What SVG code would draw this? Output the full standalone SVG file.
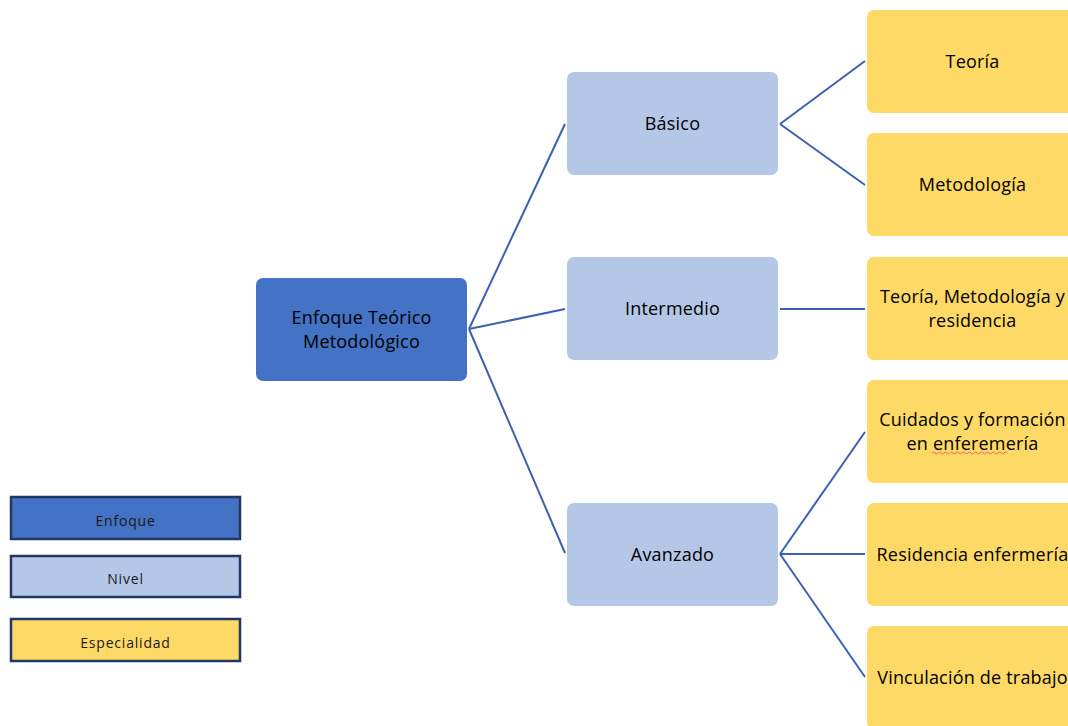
<svg xmlns="http://www.w3.org/2000/svg" width="1068" height="726" viewBox="0 0 1068 726">
<style>
.t{font-family:"Open Sans","Noto Sans",sans-serif;font-size:18px;fill:#000;text-anchor:middle;letter-spacing:0.2px}
.lt{font-family:"Open Sans","Noto Sans",sans-serif;font-size:14px;fill:#1a1a1a;text-anchor:middle;letter-spacing:0.8px}
.root{fill:#4472C4}
.lvl{fill:#B4C7E7}
.esp{fill:#FFD966}
.c{stroke:#3A62B0;stroke-width:2;fill:none}
.leg{stroke:#1F3864;stroke-width:2.5}
</style>
<rect width="1068" height="726" fill="#fff"/>
<g id="connectors">
<line class="c" x1="469" y1="329" x2="565" y2="124"/>
<line class="c" x1="469" y1="329" x2="565" y2="309"/>
<line class="c" x1="469" y1="329" x2="565" y2="553"/>
<line class="c" x1="780" y1="124" x2="865" y2="61"/>
<line class="c" x1="780" y1="124" x2="865" y2="185"/>
<line class="c" x1="780" y1="309" x2="865" y2="309"/>
<line class="c" x1="780" y1="554" x2="865" y2="432"/>
<line class="c" x1="780" y1="554" x2="865" y2="554"/>
<line class="c" x1="780" y1="554" x2="865" y2="677"/>
</g>
<g id="root"><rect class="root" x="256" y="278" width="211" height="103" rx="7"/>
<text class="t" x="361.5" y="324">Enfoque Teórico</text><text class="t" x="361.5" y="348">Metodológico</text></g>
<g id="basico"><rect class="lvl" x="567" y="72" width="211" height="103" rx="7"/><text class="t" x="672.5" y="130">Básico</text></g>
<g id="intermedio"><rect class="lvl" x="567" y="257" width="211" height="103" rx="7"/><text class="t" x="672.5" y="315">Intermedio</text></g>
<g id="avanzado"><rect class="lvl" x="567" y="503" width="211" height="103" rx="7"/><text class="t" x="672.5" y="561">Avanzado</text></g>
<g id="teoria"><rect class="esp" x="867" y="10" width="211" height="103" rx="7"/><text class="t" x="972.5" y="68">Teoría</text></g>
<g id="metodologia"><rect class="esp" x="867" y="133" width="211" height="103" rx="7"/><text class="t" x="972.5" y="191">Metodología</text></g>
<g id="teoria-met-res"><rect class="esp" x="867" y="257" width="211" height="103" rx="7"/><text class="t" x="972.5" y="303">Teoría, Metodología y</text><text class="t" x="972.5" y="327">residencia</text></g>
<g id="cuidados"><rect class="esp" x="867" y="380" width="211" height="103" rx="7"/><text class="t" x="972.5" y="426">Cuidados y formación</text><text class="t" x="972.5" y="450">en enferemería</text>
<path d="M932 453 q1.5 -2 3 0 t3 0 t3 0 t3 0 t3 0 t3 0 t3 0 t3 0 t3 0 t3 0 t3 0 t3 0 t3 0 t3 0 t3 0 t3 0 t3 0 t3 0 t3 0 t3 0 t3 0 t3 0 t3 0 t3 0 t3 0" stroke="#E05050" stroke-width="0.8" fill="none"/></g>
<g id="residencia"><rect class="esp" x="867" y="503" width="211" height="103" rx="7"/><text class="t" x="972.5" y="561">Residencia enfermería</text></g>
<g id="vinculacion"><rect class="esp" x="867" y="626" width="211" height="103" rx="7"/><text class="t" x="972.5" y="684">Vinculación de trabajo</text></g>
<g id="legend-enfoque"><rect class="root leg" x="11" y="497" width="229" height="42"/><text class="lt" x="125.5" y="526">Enfoque</text></g>
<g id="legend-nivel"><rect class="lvl leg" x="11" y="556" width="229" height="41"/><text class="lt" x="125.5" y="584">Nivel</text></g>
<g id="legend-especialidad"><rect class="esp leg" x="11" y="619" width="229" height="42"/><text class="lt" x="125.5" y="648">Especialidad</text></g>
</svg>
